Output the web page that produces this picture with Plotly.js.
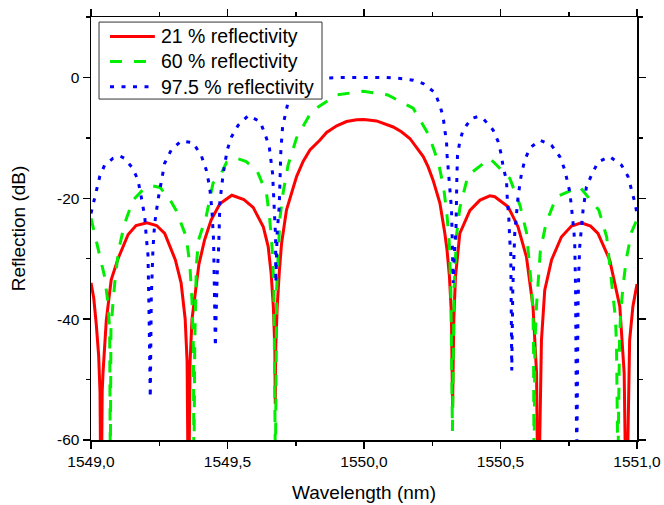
<!DOCTYPE html>
<html>
<head>
<meta charset="utf-8">
<script src="https://cdn.plot.ly/plotly-3.0.1.min.js"></script>
<style>html,body{margin:0;padding:0;background:#fff;}#chart{width:664px;height:505px;}</style>
</head>
<body>
<div id="chart"></div>
<script>
// ---- data ----
const seriesNames = ['21 % reflectivity', '60 % reflectivity', '97.5 % reflectivity'];
const seriesColors = ['#ff0000', '#00ee00', '#0000ff'];
const seriesDash = ['solid', '12px,12px', '4px,7.5px'];

const redWl = [1549.000,1549.010,1549.019,1549.028,1549.033,1549.037,1549.041,1549.044,1549.056,1549.074,1549.099,1549.136,1549.165,1549.205,1549.240,1549.270,1549.309,1549.330,1549.345,1549.352,1549.357,1549.363,1549.370,1549.380,1549.395,1549.416,1549.440,1549.472,1549.516,1549.560,1549.594,1549.631,1549.649,1549.660,1549.668,1549.6735,1549.675,1549.6765,1549.682,1549.690,1549.698,1549.716,1549.735,1549.753,1549.777,1549.802,1549.838,1549.863,1549.900,1549.936,1549.973,1550.000,1550.046,1550.080,1550.107,1550.137,1550.168,1550.217,1550.235,1550.253,1550.265,1550.278,1550.296,1550.304,1550.313,1550.320,1550.3245,1550.329,1550.335,1550.351,1550.388,1550.425,1550.461,1550.479,1550.528,1550.564,1550.595,1550.619,1550.632,1550.638,1550.650,1550.662,1550.687,1550.723,1550.760,1550.796,1550.830,1550.857,1550.900,1550.937,1550.953,1550.961,1550.973,1550.985,1551.000];
const redDb = [-34.0,-36.5,-40.7,-46.0,-52.0,-75,-52.0,-48.9,-40.2,-33.5,-30.0,-26.0,-24.5,-24.05,-24.5,-25.8,-30.2,-34.0,-40.0,-47.0,-75,-47.0,-40.0,-36.3,-31.0,-26.9,-23.6,-20.9,-19.5,-20.2,-21.5,-24.7,-28.0,-32.5,-38.0,-45.0,-54.0,-45.0,-38.0,-32.0,-27.5,-21.95,-18.9,-16.4,-13.9,-12.0,-10.4,-9.1,-8.0,-7.3,-7.0,-6.95,-7.2,-7.7,-8.2,-9.0,-10.1,-13.1,-14.8,-17.0,-18.8,-20.8,-25.8,-28.5,-33.0,-39.0,-54.5,-40.0,-33.0,-25.8,-22.0,-20.3,-19.6,-19.75,-21.4,-24.7,-29.7,-37.9,-48.9,-75,-43.5,-35.2,-30.2,-26.4,-24.6,-24.05,-24.6,-25.8,-30.2,-37.9,-48.9,-75,-43.5,-37.9,-34.2];

const greenWl = [1549.000,1549.026,1549.050,1549.062,1549.0685,1549.0707,1549.073,1549.0805,1549.089,1549.101,1549.123,1549.154,1549.186,1549.220,1549.253,1549.290,1549.312,1549.349,1549.362,1549.370,1549.375,1549.377,1549.380,1549.386,1549.394,1549.422,1549.447,1549.477,1549.497,1549.534,1549.567,1549.607,1549.643,1549.655,1549.664,1549.670,1549.6755,1549.680,1549.686,1549.692,1549.704,1549.722,1549.753,1549.808,1549.900,1549.997,1550.087,1550.180,1550.237,1550.272,1550.292,1550.304,1550.312,1550.318,1550.324,1550.330,1550.339,1550.351,1550.381,1550.461,1550.534,1550.571,1550.595,1550.604,1550.613,1550.619,1550.621,1550.623,1550.626,1550.632,1550.638,1550.646,1550.667,1550.705,1550.790,1550.860,1550.889,1550.900,1550.912,1550.921,1550.925,1550.930,1550.936,1550.940,1550.949,1550.961,1550.980,1551.000];
const greenDb = [-23.3,-28.3,-33.0,-37.3,-41.8,-65,-41.8,-37.3,-33.0,-28.6,-24.2,-20.3,-18.8,-17.9,-18.2,-20.3,-22.0,-26.4,-31.0,-37.0,-44.6,-65,-44.0,-31.0,-26.9,-23.0,-17.5,-15.9,-14.0,-13.4,-13.9,-15.3,-19.2,-23.6,-28.6,-35.0,-65,-35.0,-28.2,-23.3,-19.0,-14.5,-10.0,-5.6,-2.9,-2.27,-2.9,-5.1,-9.5,-14.0,-18.3,-22.8,-27.2,-35.0,-58.5,-35.0,-26.1,-21.6,-16.2,-13.4,-16.7,-21.1,-25.6,-29.6,-34.4,-38.9,-44.0,-65,-44.0,-37.7,-33.2,-28.7,-24.1,-19.75,-18.1,-21.95,-26.4,-31.0,-35.5,-39.8,-44.3,-65,-43.5,-39.0,-34.5,-30.0,-25.6,-23.5];

const blueWl = [1549.000,1549.0135,1549.032,1549.050,1549.0805,1549.106,1549.123,1549.154,1549.172,1549.184,1549.197,1549.2025,1549.2087,1549.2123,1549.2171,1549.2208,1549.2233,1549.227,1549.2332,1549.2453,1549.2698,1549.294,1549.3306,1549.3734,1549.4038,1549.4221,1549.4346,1549.443,1549.449,1549.4515,1549.454,1549.4555,1549.4575,1549.4587,1549.4624,1549.4675,1549.4723,1549.4843,1549.499,1549.5151,1549.5393,1549.576,1549.619,1549.637,1549.653,1549.659,1549.6652,1549.6674,1549.670,1549.6736,1549.6762,1549.677,1549.6785,1549.6821,1549.6894,1549.6919,1549.6956,1549.7018,1549.7223,1549.742,1549.785,1549.820,1549.860,1549.920,1550.000,1550.080,1550.140,1550.180,1550.2165,1550.2594,1550.2777,1550.2898,1550.296,1550.3022,1550.3044,1550.3081,1550.3117,1550.3143,1550.3205,1550.3242,1550.3265,1550.330,1550.337,1550.340,1550.3425,1550.3509,1550.363,1550.3937,1550.415,1550.4362,1550.4728,1550.4911,1550.5036,1550.5094,1550.5219,1550.5255,1550.5303,1550.5339,1550.5376,1550.5413,1550.545,1550.5522,1550.5585,1550.5643,1550.5768,1550.5889,1550.6072,1550.6438,1550.6866,1550.717,1550.7353,1550.7536,1550.7599,1550.7657,1550.7694,1550.7719,1550.775,1550.7792,1550.7818,1550.784,1550.7866,1550.7902,1550.8023,1550.8085,1550.8147,1550.833,1550.8572,1550.9001,1550.9429,1550.9671,1550.9795,1550.9916,1551.000];
const blueDb = [-22.5,-19.75,-16.4,-14.5,-13.4,-13.0,-13.4,-15.1,-17.0,-19.75,-23.1,-26.4,-29.4,-38.0,-53.0,-36.6,-32.4,-28.3,-24.2,-20.3,-14.2,-12.0,-10.5,-10.8,-12.9,-15.3,-18.1,-22.0,-27.0,-33.0,-41.0,-44.6,-40.7,-36.6,-32.4,-28.3,-20.5,-15.9,-12.0,-9.8,-7.9,-6.3,-7.3,-9.3,-11.5,-13.7,-15.9,-18.1,-20.8,-23.6,-26.4,-34.0,-29.0,-25.5,-21.4,-16.4,-12.0,-8.2,-4.0,-2.5,-1.0,-0.3,-0.1,0.0,0.0,0.0,-0.2,-0.45,-1.0,-2.5,-4.6,-6.5,-8.7,-10.6,-12.9,-14.8,-16.7,-18.9,-21.8,-28.9,-34.0,-30.0,-25.0,-17.0,-12.9,-10.6,-8.7,-6.8,-6.5,-6.8,-8.7,-10.6,-12.9,-14.8,-17.0,-20.8,-23.1,-26.9,-29.1,-48.5,-35.0,-25.8,-22.0,-19.75,-15.9,-13.7,-11.7,-10.4,-11.2,-13.1,-15.3,-18.9,-21.4,-23.6,-25.8,-27.5,-35.0,-65,-43.5,-37.9,-32.4,-28.0,-22.0,-20.0,-18.1,-16.2,-14.0,-13.1,-14.5,-16.4,-18.4,-20.6,-22.5];

const xTickVals = [1549.0, 1549.5, 1550.0, 1550.5, 1551.0];
const xTickText = ['1549,0', '1549,5', '1550,0', '1550,5', '1551,0'];
const xMinorVals = [1549.25, 1549.75, 1550.25, 1550.75];
const yTickVals = [0, -20, -40, -60];
const yTickText = ['0', '-20', '-40', '-60'];
const yMinorVals = [-50, -30, -10, 10];

// ---- traces ----
const seriesData = [[redWl, redDb], [greenWl, greenDb], [blueWl, blueDb]];
const traces = seriesData.map((d, i) => ({
  x: d[0], y: d[1], name: seriesNames[i], type: 'scatter', mode: 'lines',
  line: {color: seriesColors[i], width: 3, dash: seriesDash[i]}, showlegend: false
}));

// ---- legend box drawn in paper coordinates (plot area: x 91..637, y 17..440 px) ----
const legendBox = {x0: 0.0147, x1: 0.4231, y0: 0.806, y1: 0.988};
const legendRowsY = [0.954, 0.895, 0.835];
const legendLineX = [0.0348, 0.117];
const legendTextX = 0.125;

const shapes = [{
  type: 'rect', xref: 'paper', yref: 'paper', layer: 'above',
  x0: legendBox.x0, x1: legendBox.x1, y0: legendBox.y0, y1: legendBox.y1,
  fillcolor: '#fff', line: {color: '#333', width: 1}
}];
const annotations = [];
seriesNames.forEach((nm, i) => {
  shapes.push({
    type: 'line', xref: 'paper', yref: 'paper', layer: 'above',
    x0: legendLineX[0], x1: legendLineX[1], y0: legendRowsY[i], y1: legendRowsY[i],
    line: {color: seriesColors[i], width: 3, dash: seriesDash[i]}
  });
  annotations.push({
    xref: 'paper', yref: 'paper', x: legendTextX, y: legendRowsY[i],
    xanchor: 'left', yanchor: 'middle', showarrow: false, text: nm,
    font: {size: 19.5, color: '#000'}
  });
});

const axisCommon = {
  showline: true, linecolor: '#000', linewidth: 1.5, mirror: 'ticks',
  ticks: 'outside', ticklen: 7, tickwidth: 1.5, tickcolor: '#000',
  showgrid: false, zeroline: false, automargin: false,
  tickfont: {family: 'Liberation Sans, Arial, sans-serif', size: 15.5, color: '#000'}
};

const layout = {
  width: 664, height: 505,
  paper_bgcolor: '#fff', plot_bgcolor: '#fff',
  margin: {l: 91, r: 27, t: 17, b: 65, pad: 0},
  showlegend: false,
  font: {family: 'Liberation Sans, Arial, sans-serif', color: '#000'},
  xaxis: Object.assign({}, axisCommon, {
    range: [1549, 1551],
    tickmode: 'array', tickvals: xTickVals, ticktext: xTickText,
    minor: {tickmode: 'array', tickvals: xMinorVals, ticks: 'outside', ticklen: 4, tickwidth: 1.5, tickcolor: '#000'},
    title: {text: 'Wavelength (nm)', font: {size: 19, color: '#000'}, standoff: 16}
  }),
  yaxis: Object.assign({}, axisCommon, {
    range: [-60, 10],
    tickmode: 'array', tickvals: yTickVals, ticktext: yTickText,
    minor: {tickmode: 'array', tickvals: yMinorVals, ticks: 'outside', ticklen: 4, tickwidth: 1.5, tickcolor: '#000'},
    title: {text: 'Reflection (dB)', font: {size: 19, color: '#000'}, standoff: 26}
  }),
  shapes: shapes,
  annotations: annotations
};

Plotly.newPlot('chart', traces, layout, {staticPlot: true, displayModeBar: false});
</script>
</body>
</html>
